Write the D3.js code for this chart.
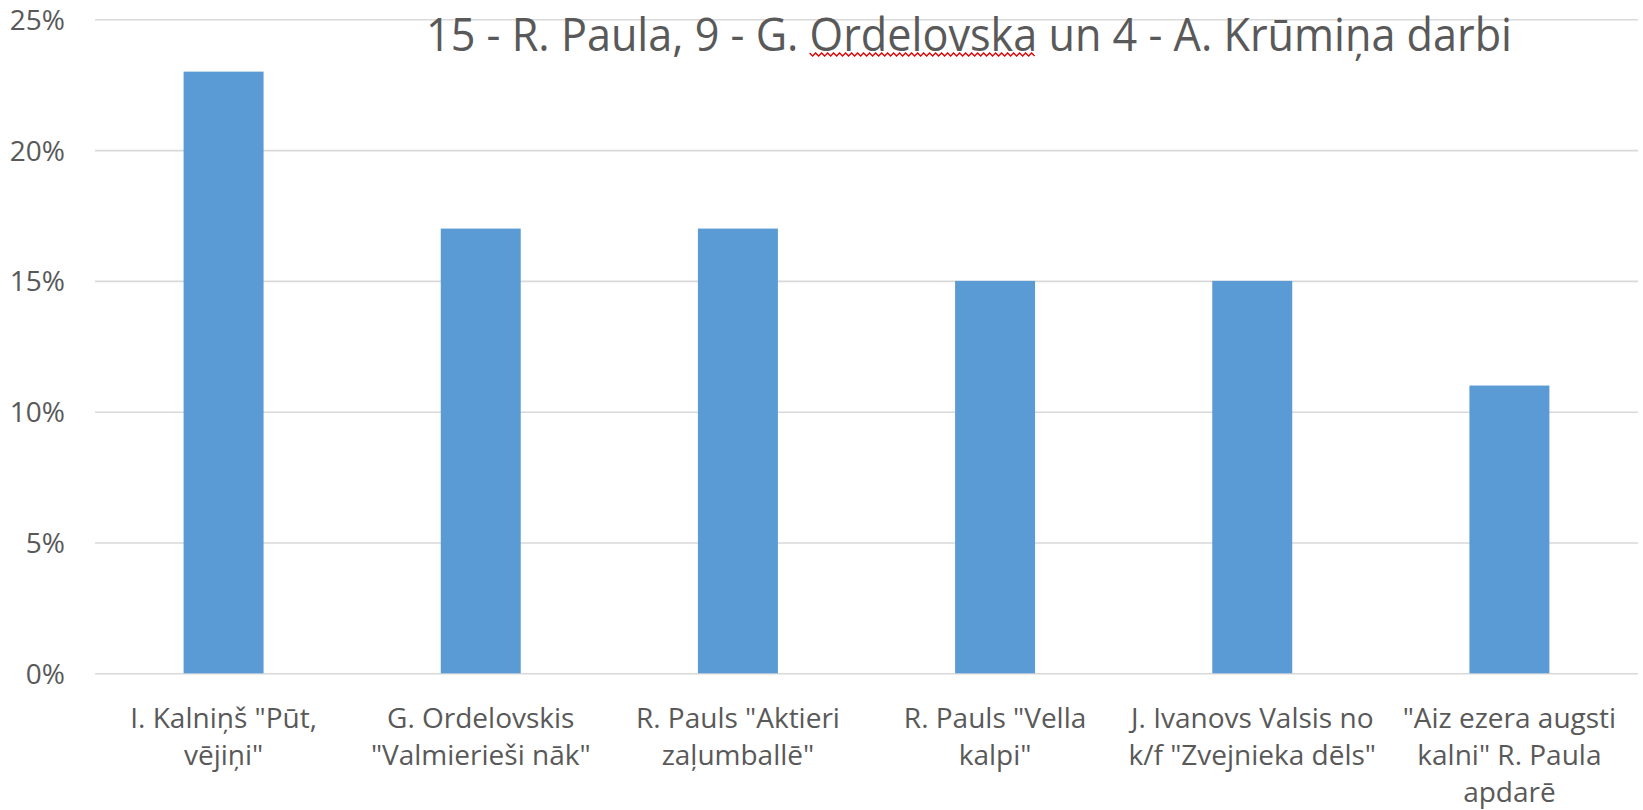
<!DOCTYPE html>
<html>
<head>
<meta charset="utf-8">
<script src="https://cdn.jsdelivr.net/npm/d3@7"></script>
<style>
  html, body { margin: 0; padding: 0; background: #fff; }
  svg { display: block; }
  text { font-family: "Open Sans", "Noto Sans", sans-serif; fill: #595959; }
</style>
</head>
<body>
<svg id="chart" width="1643" height="810"></svg>
<script>
// ---- data ----
const categories = [
  ["I. Kalniņš \"Pūt,", "vējiņi\""],
  ["G. Ordelovskis", "\"Valmierieši nāk\""],
  ["R. Pauls \"Aktieri", "zaļumballē\""],
  ["R. Pauls \"Vella", "kalpi\""],
  ["J. Ivanovs Valsis no", "k/f \"Zvejnieka dēls\""],
  ["\"Aiz ezera augsti", "kalni\" R. Paula", "apdarē"]
];
const values = [0.23, 0.17, 0.17, 0.15, 0.15, 0.11];
const yTicks = [0, 0.05, 0.10, 0.15, 0.20, 0.25];
const titleText = ["15 - R. Paula, 9 - G. ", "Ordelovska", " un 4 - A. Krūmiņa darbi"];

// ---- layout ----
const W = 1643, H = 810;
const plot = { left: 95, right: 1638, top: 19.3, bottom: 673.3 };

const svg = d3.select("#chart");

const x = d3.scaleBand()
  .domain(d3.range(categories.length))
  .range([plot.left, plot.right])
  .paddingInner(0.689)
  .paddingOuter(0.3445);

const y = d3.scaleLinear()
  .domain([0, 0.25])
  .range([plot.bottom, plot.top]);

// gridlines
const yAxis = d3.axisLeft(y)
  .tickValues(yTicks)
  .tickFormat(d3.format(".0%"))
  .tickSize(-(plot.right - plot.left))
  .tickPadding(30);

const gy = svg.append("g")
  .attr("transform", `translate(${plot.left},0)`)
  .call(yAxis);
gy.select(".domain").remove();
gy.selectAll(".tick line").attr("stroke", "#d9d9d9").attr("stroke-width", 1.6);
gy.selectAll(".tick text")
  .attr("font-size", 28)
  .attr("fill", "#595959")
  .attr("dy", "0.36em")
  .style("font-family", "'Open Sans', 'Noto Sans', sans-serif");

// bars
svg.append("g").selectAll("rect")
  .data(values)
  .join("rect")
  .attr("x", (d, i) => x(i))
  .attr("width", x.bandwidth())
  .attr("y", d => y(d))
  .attr("height", d => y(0) - y(d))
  .attr("fill", "#5b9bd5");

// category labels
const lab = svg.append("g").selectAll("text")
  .data(categories)
  .join("text")
  .attr("text-anchor", "middle")
  .attr("font-size", 28)
  .attr("transform", (d, i) => `translate(${x(i) + x.bandwidth() / 2},${plot.bottom + 55})`);
lab.selectAll("tspan")
  .data(d => d)
  .join("tspan")
  .attr("x", 0)
  .attr("y", (d, j) => j * 37)
  .text(d => d);

// title
const title = svg.append("text")
  .attr("x", 969)
  .attr("y", 51)
  .attr("text-anchor", "middle")
  .attr("font-size", 45)
  .attr("textLength", 1086)
  .attr("lengthAdjust", "spacingAndGlyphs");
title.selectAll("tspan")
  .data(titleText)
  .join("tspan")
  .text(d => d);

// spell-check squiggle under "Ordelovska"
const tnode = title.node();
const start = titleText[0].length;
const endIdx = start + titleText[1].length - 1;
const e0 = tnode.getExtentOfChar(start);
const e1 = tnode.getExtentOfChar(endIdx);
const sx0 = e0.x, sx1 = e1.x + e1.width, sy = 54.5;
const pts = [];
for (let k = 0, px = sx0; px <= sx1; px += 3, k++) {
  pts.push([px, sy + (k % 2 ? 1.5 : -1.5)]);
}
svg.append("path")
  .attr("d", d3.line()(pts))
  .attr("fill", "none")
  .attr("stroke", "#e00000")
  .attr("stroke-width", 1.3);
</script>
</body>
</html>
